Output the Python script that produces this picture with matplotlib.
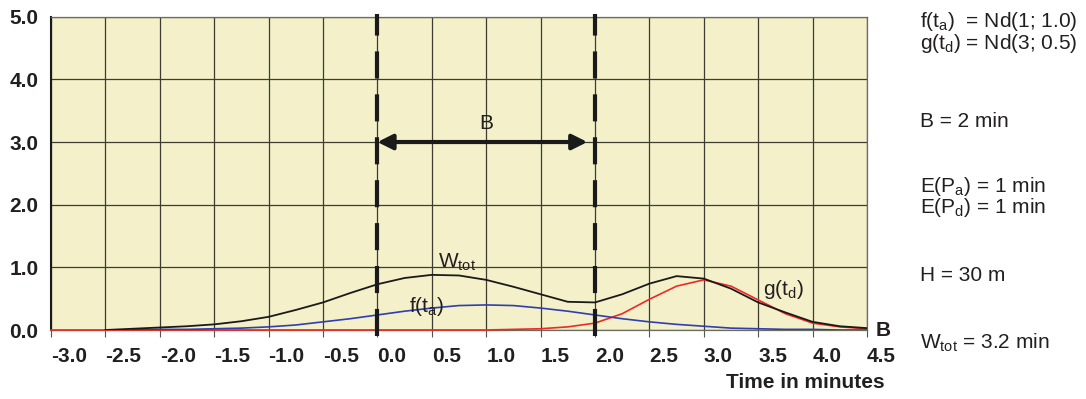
import numpy as np
import matplotlib
matplotlib.use("Agg")
import matplotlib.pyplot as plt

plt.rcParams['font.family'] = ['Liberation Sans', 'DejaVu Sans']
plt.rcParams['mathtext.default'] = 'regular'

# values (time in minutes)
time = [-3.0, -2.75, -2.5, -2.25, -2.0, -1.75, -1.5, -1.25, -1.0, -0.75, -0.5, -0.25,
        0.0, 0.25, 0.5, 0.75, 1.0, 1.25, 1.5, 1.75, 2.0, 2.25, 2.5, 2.75,
        3.0, 3.25, 3.5, 3.75, 4.0, 4.25, 4.5]
nan = np.nan
f_arrival = [nan, nan, nan, 0.00, 0.01, 0.01, 0.02, 0.03, 0.05, 0.08, 0.13, 0.18,
             0.24, 0.30, 0.35, 0.39, 0.40, 0.39, 0.35, 0.30, 0.24, 0.18, 0.13, 0.09,
             0.06, 0.03, 0.02, 0.01, 0.01, 0.00, 0.00]
g_departure = [0.0, 0.0, 0.0, 0.0, 0.0, 0.0, 0.0, 0.0, 0.0, 0.0, 0.0, 0.0,
               0.0, 0.0, 0.0, 0.0, 0.0, 0.01, 0.02, 0.05, 0.11, 0.26, 0.49, 0.70,
               0.80, 0.70, 0.48, 0.26, 0.11, 0.05, 0.02]
w_tot = [nan, nan, 0.00, 0.02, 0.04, 0.06, 0.09, 0.14, 0.21, 0.32, 0.44, 0.59,
         0.73, 0.83, 0.88, 0.87, 0.80, 0.69, 0.57, 0.45, 0.44, 0.57, 0.74, 0.86,
         0.82, 0.66, 0.44, 0.28, 0.13, 0.06, 0.03]

xticks = [-3.0, -2.5, -2.0, -1.5, -1.0, -0.5, 0.0, 0.5, 1.0, 1.5, 2.0, 2.5, 3.0, 3.5, 4.0, 4.5]
yticks = [0.0, 1.0, 2.0, 3.0, 4.0, 5.0]
buffer_start = 0.0
buffer_end = 2.0

info_lines = [
    (r'f(t$_a$)  = Nd(1; 1.0)', 26.7),
    (r'g(t$_d$) = Nd(3; 0.5)', 49),
    ('B = 2 min', 127),
    (r'E(P$_a$) = 1 min', 192),
    (r'E(P$_d$) = 1 min', 213),
    ('H = 30 m', 281),
    (r'W$_{tot}$ = 3.2 min', 349),
]

textc = '#231f20'
fs = 15
W, H = 1086, 399
fig = plt.figure(figsize=(W / 100, H / 100), dpi=100)
ax = fig.add_axes([51 / W, 1 - 330 / H, (867 - 51) / W, (330 - 16.7) / H])
ax.set_facecolor('#f3f0ca')

ax.plot(time, g_departure, color='#ee2a24', lw=1.2, zorder=3, clip_on=False)
ax.plot(time, f_arrival, color='#2f3fae', lw=1.2, zorder=3)
ax.plot(time, w_tot, color='#1a1a1a', lw=1.3, zorder=4)

for xb in (buffer_start, buffer_end):
    ax.plot([xb, xb], [-0.1, 5.05], color='#1a1a1a', lw=3.0, dashes=(6.5, 3.8),
            clip_on=False, zorder=5)

ax.annotate('', xy=(1.93, 3.0), xytext=(buffer_start, 3.0),
            arrowprops=dict(arrowstyle='<|-|>,head_length=0.9,head_width=0.45',
                            color='#1a1a1a', lw=3.0, shrinkA=0, shrinkB=0), zorder=6)
ax.text(1.0, 3.3, 'B', fontsize=fs, color=textc, ha='center', va='center')

ax.text(0.56, 1.0, r'W$_{tot}$', fontsize=fs, color=textc, ha='left', va='baseline')
ax.text(0.29, 0.37, r'f(t$_a$)', fontsize=fs, color=textc, ha='left', va='center')
ax.text(3.54, 0.64, r'g(t$_d$)', fontsize=fs, color=textc, ha='left', va='center')
ax.text(4.58, 0.0, 'B', fontsize=fs, fontweight='bold', color=textc, ha='left',
        va='center', clip_on=False)

ax.set_xlim(-3.0, 4.5)
ax.set_ylim(0, 5.0)
ax.set_xticks(xticks)
ax.set_yticks(yticks)
ax.set_xticklabels(['%.1f' % v for v in xticks], ha='left')
ax.set_yticklabels(['%.1f' % v for v in yticks])
for lab in ax.get_xticklabels() + ax.get_yticklabels():
    lab.set_fontweight('bold')
    lab.set_fontsize(fs)
    lab.set_color(textc)
ax.tick_params(axis='x', direction='out', length=5, width=0.8, color='#555555', pad=7)
ax.tick_params(axis='y', length=0, pad=9)

ax.grid(True, color='#3c3c30', lw=0.9)
ax.set_axisbelow(True)
for side in ('top', 'right', 'bottom'):
    ax.spines[side].set_color('#6b6b60')
    ax.spines[side].set_linewidth(0.9)
ax.spines['left'].set_color('#1a1a1a')
ax.spines['left'].set_linewidth(1.5)

fig.text(885 / W, 1 - 382 / H, 'Time in minutes', fontsize=fs, fontweight='bold',
         color=textc, ha='right', va='center')

for txt, ypx in info_lines:
    fig.text(920 / W, 1 - ypx / H, txt, fontsize=fs, color=textc, ha='left', va='baseline')

fig.savefig('out.png', dpi=100)
